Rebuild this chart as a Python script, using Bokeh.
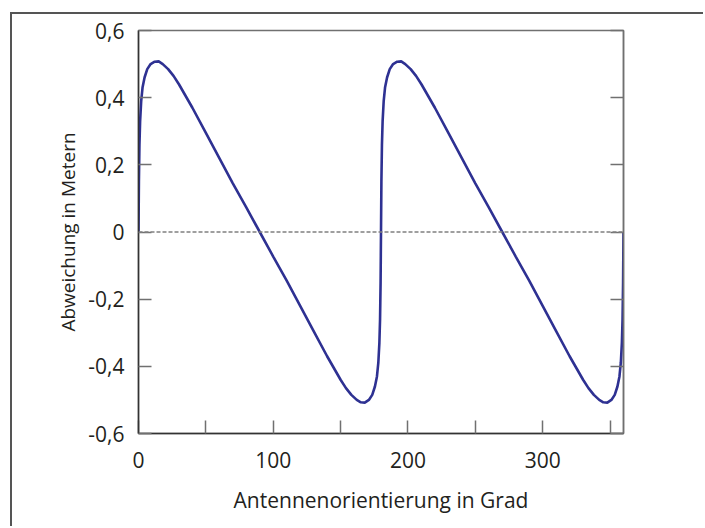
from bokeh.plotting import figure
from bokeh.models import FixedTicker, LinearAxis, Span, Range1d
from bokeh.embed import file_html
from bokeh.resources import INLINE

# Antenna orientation (degrees) and deviation (metres)
orientation = [0, 0.3, 0.7, 1.2, 2, 3, 4.5, 6.5, 9, 12, 15, 18, 22, 26, 30, 35, 40,
               50, 60, 70, 80, 90, 100, 110, 120, 130, 140, 145, 150, 154, 158,
               162, 165, 168, 171, 173.5, 175.5, 177, 178, 178.8, 179.3, 179.7,
               180, 180.3, 180.7, 181.2, 182, 183, 184.5, 186.5, 189, 192, 195,
               198, 202, 206, 210, 215, 220, 230, 240, 250, 260, 270, 280, 290,
               300, 310, 320, 325, 330, 334, 338, 342, 345, 348, 351, 353.5,
               355.5, 357, 358, 358.8, 359.3, 359.7, 360]
deviation = [0, 0.15, 0.26, 0.33, 0.39, 0.43, 0.46, 0.485, 0.5, 0.507, 0.508, 0.5,
             0.485, 0.465, 0.44, 0.405, 0.37, 0.295, 0.22, 0.145, 0.073, 0,
             -0.073, -0.145, -0.22, -0.295, -0.37, -0.405, -0.44, -0.465, -0.485,
             -0.5, -0.507, -0.508, -0.5, -0.485, -0.46, -0.43, -0.39, -0.33,
             -0.26, -0.15, 0, 0.15, 0.26, 0.33, 0.39, 0.43, 0.46, 0.485, 0.5,
             0.507, 0.508, 0.5, 0.485, 0.465, 0.44, 0.405, 0.37, 0.295, 0.22,
             0.145, 0.073, 0, -0.073, -0.145, -0.22, -0.295, -0.37, -0.405,
             -0.44, -0.465, -0.485, -0.5, -0.507, -0.508, -0.5, -0.485, -0.46,
             -0.43, -0.39, -0.33, -0.26, -0.15, 0]

x_major = [0, 100, 200, 300]
x_minor = [50, 150, 250, 350]
y_ticks = [-0.6, -0.4, -0.2, 0, 0.2, 0.4, 0.6]
y_tick_labels = ["-0,6", "-0,4", "-0,2", "0", "0,2", "0,4", "0,6"]

FONT = "Open Sans"
TEXT = "#231f20"
GRAY = "#707070"

p = figure(width=693, height=514, output_backend="svg", toolbar_location=None,
           x_range=Range1d(0, 360), y_range=Range1d(-0.6, 0.6),
           min_border_left=126, min_border_right=82, min_border_top=16,
           min_border_bottom=95)
p.styles = {"border-left": "2px solid #555555", "border-top": "2px solid #555555",
            "margin-left": "10px", "margin-top": "12px"}
p.xgrid.visible = False
p.ygrid.visible = False
p.outline_line_color = GRAY
p.outline_line_width = 1.5
p.background_fill_color = "white"
p.border_fill_color = "white"

zero = Span(location=0, dimension="width", line_color="#808080",
            line_dash="4 2", line_width=1.3)
p.add_layout(zero)

p.line(orientation, deviation, line_color="#2e3192", line_width=2.6)

xa = p.xaxis[0]
xa.ticker = FixedTicker(ticks=x_major, minor_ticks=x_minor)
xa.axis_label = "Antennenorientierung in Grad"
ya = p.yaxis[0]
ya.ticker = FixedTicker(ticks=y_ticks)
ya.major_label_overrides = {t: s for t, s in zip(y_ticks, y_tick_labels)}
ya.axis_label = "Abweichung in Metern"

for ax in (xa, ya):
    ax.axis_line_color = "#333333"
    ax.axis_line_width = 1.5
    ax.major_tick_line_color = GRAY
    ax.major_tick_line_width = 1.5
    ax.minor_tick_line_color = GRAY
    ax.minor_tick_line_width = 1.5
    ax.major_tick_in = 13
    ax.major_tick_out = 0
    ax.major_label_text_font = FONT
    ax.major_label_text_font_size = "21px"
    ax.major_label_text_color = TEXT
    ax.axis_label_text_font = FONT
    ax.axis_label_text_font_size = "21px"
    ax.axis_label_text_font_style = "normal"
    ax.axis_label_text_color = TEXT

ya.axis_label_text_font_size = "19px"
xa.minor_tick_in = 13
xa.minor_tick_out = 0
ya.minor_tick_line_color = None
xa.major_label_standoff = 18
xa.axis_label_standoff = 15
ya.major_label_standoff = 14
ya.axis_label_standoff = 4

ra = LinearAxis(ticker=FixedTicker(ticks=y_ticks), major_label_text_color=None,
                axis_line_color=GRAY, axis_line_width=1.5,
                major_tick_line_color=GRAY, major_tick_line_width=1.5,
                major_tick_in=13, major_tick_out=0, minor_tick_line_color=None,
                major_label_standoff=0)
p.add_layout(ra, "right")

open("out.html", "w").write(file_html(p, INLINE))
